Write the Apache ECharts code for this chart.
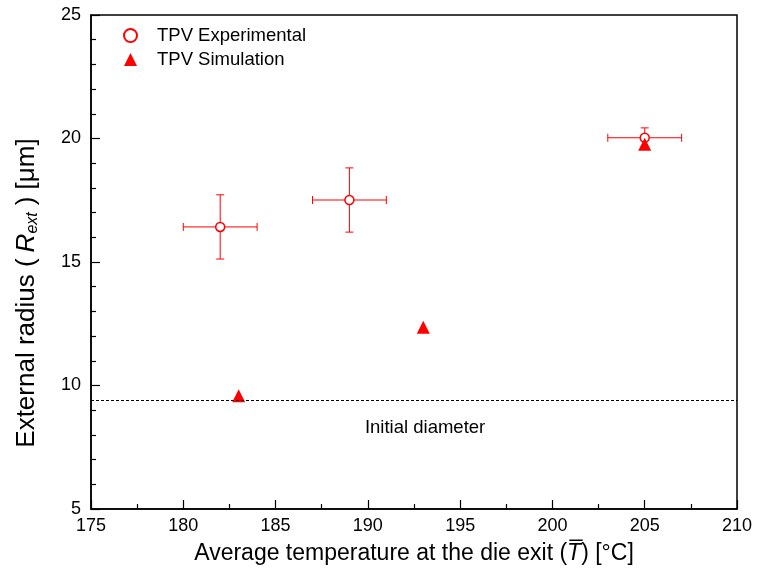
<!DOCTYPE html>
<html>
<head>
<meta charset="utf-8">
<script src="https://cdn.jsdelivr.net/npm/echarts@6/dist/echarts.min.js"></script>
<style>html,body{margin:0;padding:0;background:#fff}#c{width:758px;height:580px}</style>
</head>
<body>
<div id="c"></div>
<script>
// Data
const expTemp = [182, 189, 205];
const expRadius = [16.42, 17.51, 20.03];
const expTempErr = [2, 2, 2];
const expRadiusErr = [1.3, 1.3, 0.4];
const simTemp = [183, 193, 205];
const simRadius = [9.58, 12.36, 19.77];
const initialDiameter = 9.4;
const xTicks = {min: 175, max: 210, interval: 5};
const yTicks = {min: 5, max: 25, interval: 5};

const FONT = '"Liberation Sans", Arial, sans-serif';
const RED = '#ff0000';

const chart = echarts.init(document.getElementById('c'), null, {renderer: 'canvas'});

const expData = expTemp.map((t, i) => [t, expRadius[i]]);
const simData = simTemp.map((t, i) => [t, simRadius[i]]);
const errData = expTemp.map((t, i) => [t, expRadius[i], expTempErr[i], expRadiusErr[i]]);

function renderErr(params, api) {
  const x = api.value(0), y = api.value(1), dx = api.value(2), dy = api.value(3);
  const l = api.coord([x - dx, y]), r = api.coord([x + dx, y]);
  const t = api.coord([x, y + dy]), b = api.coord([x, y - dy]);
  const cap = 4;
  const st = {stroke: RED, lineWidth: 1};
  const line = (x1, y1, x2, y2) => ({type: 'line', shape: {x1, y1, x2, y2}, style: st});
  return {type: 'group', children: [
    line(l[0], l[1], r[0], r[1]),
    line(l[0], l[1] - cap, l[0], l[1] + cap),
    line(r[0], r[1] - cap, r[0], r[1] + cap),
    line(t[0], t[1], b[0], b[1]),
    line(t[0] - cap, t[1], t[0] + cap, t[1]),
    line(b[0] - cap, b[1], b[0] + cap, b[1])
  ]};
}

const option = {
  backgroundColor: '#fff',
  animation: false,
  textStyle: {fontFamily: FONT},
  grid: {left: 91, right: 21, top: 15, bottom: 71, show: true, borderColor: '#000', borderWidth: 1.5, backgroundColor: 'transparent'},
  legend: {
    left: 118, top: 21, orient: 'vertical', itemWidth: 13, itemHeight: 13, itemGap: 5,
    textStyle: {fontSize: 18.5, color: '#000', fontFamily: FONT, padding: [0, 0, 0, 15]},
    data: ['TPV Experimental', 'TPV Simulation']
  },
  xAxis: {
    type: 'value', min: xTicks.min, max: xTicks.max, interval: xTicks.interval,
    axisLine: {lineStyle: {color: '#000', width: 1.5}},
    axisTick: {inside: true, length: 9, lineStyle: {color: '#000', width: 1.2}},
    minorTick: {show: true, splitNumber: 2, length: 5, lineStyle: {color: '#000', width: 1.2}},
    splitLine: {show: false},
    axisLabel: {fontSize: 18, color: '#000', margin: 8, fontFamily: FONT},
    name: '{a|Average temperature at the die exit (}{i|T\u0305}{a|) [°C]}',
    nameLocation: 'middle', nameGap: 33,
    nameTextStyle: {fontSize: 23, color: '#000', fontFamily: FONT, rich: {
      a: {fontSize: 23, color: '#000', fontFamily: FONT},
      i: {fontSize: 23, color: '#000', fontFamily: FONT, fontStyle: 'italic'}
    }}
  },
  yAxis: {
    type: 'value', min: yTicks.min, max: yTicks.max, interval: yTicks.interval,
    axisLine: {lineStyle: {color: '#000', width: 1.5}},
    axisTick: {inside: true, length: 9, lineStyle: {color: '#000', width: 1.2}},
    minorTick: {show: true, splitNumber: 5, length: 5, lineStyle: {color: '#000', width: 1.2}},
    splitLine: {show: false},
    axisLabel: {fontSize: 18, color: '#000', margin: 10, fontFamily: FONT},
    name: '{a|External radius (}{i|R}{s|ext}{a|) [μm]}',
    nameLocation: 'middle', nameGap: 50, nameRotate: 90,
    nameTextStyle: {fontSize: 26, color: '#000', fontFamily: FONT, padding: [0, 62, 0, 0], rich: {
      a: {fontSize: 26, color: '#000', fontFamily: FONT},
      i: {fontSize: 26, color: '#000', fontFamily: FONT, fontStyle: 'italic', padding: [0, 0, 0, 6]},
      s: {fontSize: 16, color: '#000', fontFamily: FONT, fontStyle: 'italic', padding: [12, 7, 0, 0]}
    }}
  },
  series: [
    {
      type: 'custom', name: 'err', renderItem: renderErr, data: errData, z: 1,
      encode: {x: 0, y: 1}, silent: true
    },
    {
      type: 'scatter', name: 'TPV Experimental', data: expData, symbol: 'circle', symbolSize: 9, z: 2,
      itemStyle: {color: '#fff', borderColor: RED, borderWidth: 1.5, opacity: 1}
    },
    {
      type: 'scatter', name: 'TPV Simulation', data: simData, symbol: 'triangle', symbolSize: 13, z: 3,
      itemStyle: {color: RED, opacity: 1},
      markLine: {
        silent: true, symbol: 'none', animation: false,
        lineStyle: {color: '#000', type: [3, 2], width: 1},
        label: {show: false},
        data: [{yAxis: initialDiameter}]
      }
    }
  ]
};
chart.setOption(option);
const p = chart.convertToPixel({gridIndex: 0}, [193.1, initialDiameter - 1.1]);
chart.setOption({graphic: [{type: 'text', x: p[0], y: p[1], style: {text: 'Initial diameter', fontSize: 18.5, fill: '#000', fontFamily: FONT, align: 'center', verticalAlign: 'middle'}}]});
</script>
</body>
</html>
